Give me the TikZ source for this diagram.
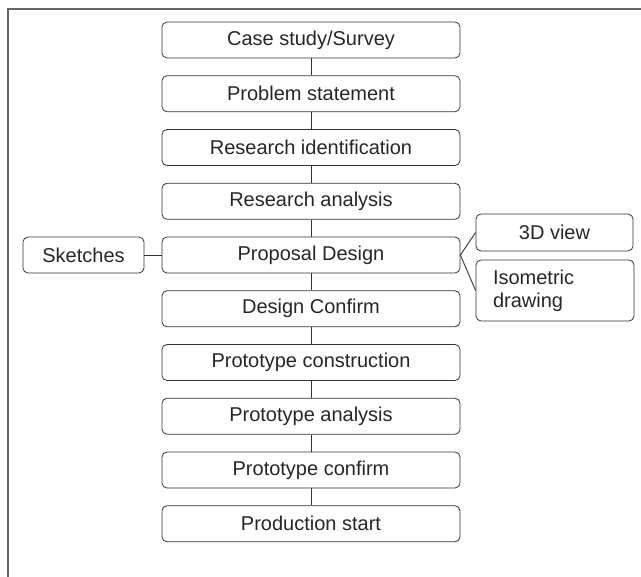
\documentclass[tikz,border=0pt]{standalone}
\usepackage{fontspec}
\setmainfont{Liberation Sans}
\tikzset{
  box/.style={draw=black!80, line width=0.8pt, rounded corners=5pt, minimum height=36pt,
    inner sep=0pt, text=black!85, font=\fontsize{20}{23}\selectfont},
  mainbox/.style={box, minimum width=298pt},
  link/.style={draw=black!80, line width=0.9pt}
}
\begin{document}
\begin{tikzpicture}[x=1pt, y=-1pt]
    \useasboundingbox (0,0) rectangle (641,577);
    % Cornice
    \draw[black!60, line width=1.3pt] (8,577) -- (8,9) -- (641,9);

    % Passi principali
    \node[mainbox] (case)  at (311,40)     {Case study/Survey};
    \node[mainbox] (prob)  at (311,93.75)  {Problem statement};
    \node[mainbox] (rid)   at (311,147.5)  {Research identification};
    \node[mainbox] (ran)   at (311,201.25) {Research analysis};
    \node[mainbox] (prop)  at (311,255)    {Proposal Design};
    \node[mainbox] (dconf) at (311,308.75) {Design Confirm};
    \node[mainbox] (pcon)  at (311,362.5)  {Prototype construction};
    \node[mainbox] (pan)   at (311,416.25) {Prototype analysis};
    \node[mainbox] (pconf) at (311,470)    {Prototype confirm};
    \node[mainbox] (prod)  at (311,523.75) {Production start};

    % Riquadri laterali
    \node[box, minimum width=121pt] (sk)  at (83.5,255)  {Sketches};
    \node[box, minimum width=157pt, minimum height=37pt] (v3d) at (554.5,232.5) {3D view};
    \node[box, minimum height=61pt, text width=124pt, inner xsep=17pt, align=left] (iso) at (555,290.5) {Isometric\\drawing};

    % Collegamenti
    \draw[link] (case) -- (prob);
    \draw[link] (prob) -- (rid);
    \draw[link] (rid) -- (ran);
    \draw[link] (ran) -- (prop);
    \draw[link] (prop) -- (dconf);
    \draw[link] (dconf) -- (pcon);
    \draw[link] (pcon) -- (pan);
    \draw[link] (pan) -- (pconf);
    \draw[link] (pconf) -- (prod);
    \draw[link] (sk) -- (prop);
    \draw[link] (prop.east) -- (v3d.west);
    \draw[link] (prop.east) -- (iso.west);
\end{tikzpicture}
\end{document}
